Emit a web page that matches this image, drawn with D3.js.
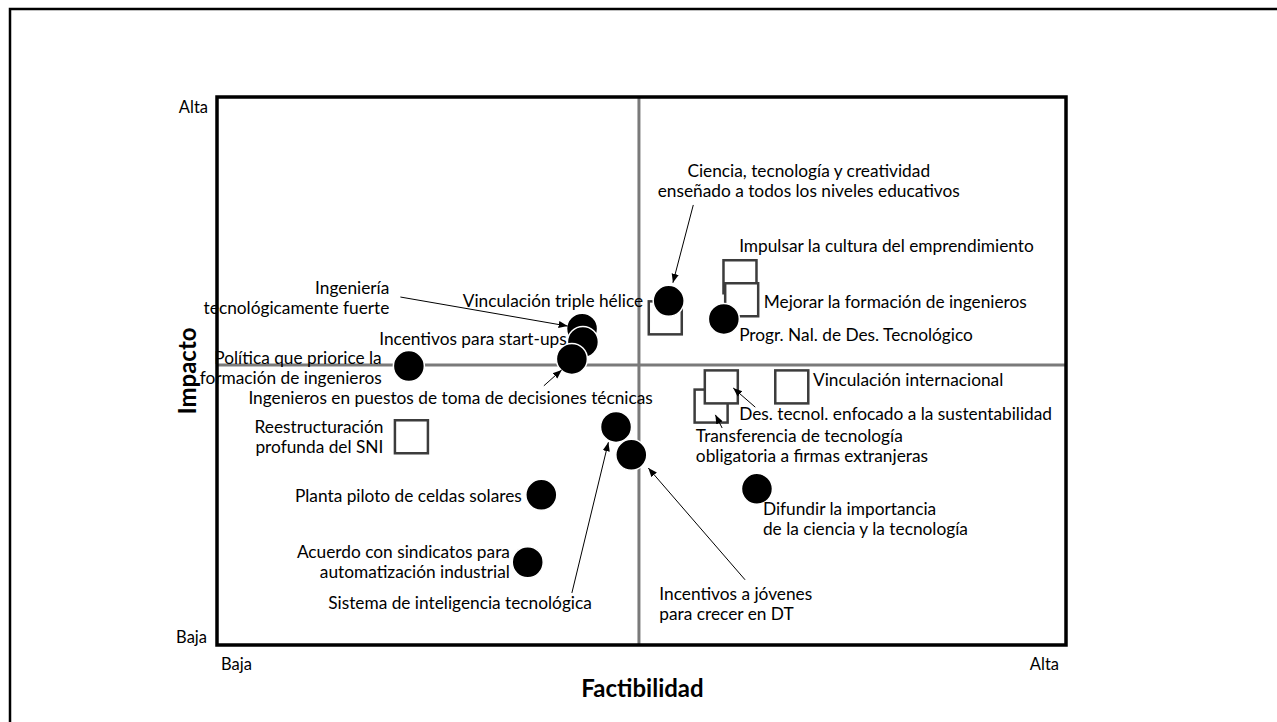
<!DOCTYPE html>
<html>
<head>
<meta charset="utf-8">
<script src="https://cdn.jsdelivr.net/npm/d3@7"></script>
<style>
  body { margin: 0; background: #fff; }
  svg { display: block; font-family: Lato, "Open Sans", sans-serif; }
</style>
</head>
<body>
<svg id="canvas" width="1277" height="722"></svg>
<script>
// ---- data (0..10 on both axes) ----
const circleNames = ['Ciencia', 'Progr', 'Triple', 'Startups', 'Puestos', 'Politica',
  'Sistema', 'Jovenes', 'Difundir', 'Planta', 'Acuerdo'];
const circleX = [5.32, 5.97, 4.30, 4.31, 4.18, 2.26, 4.70, 4.88, 6.36, 3.82, 3.66];
const circleY = [6.28, 5.95, 5.77, 5.53, 5.22, 5.09, 3.98, 3.47, 2.85, 2.74, 1.51];

const squareNames = ['Impulsar', 'CienciaSq', 'Mejorar', 'VincIntl', 'Transferencia', 'DesTecnol', 'SNI'];
const squareX = [6.16, 5.28, 6.18, 6.77, 5.82, 5.94, 2.29];
const squareY = [6.72, 5.97, 6.30, 4.71, 4.36, 4.71, 3.80];

const xMid = 4.97;
const yMid = 5.11;

const xTicks = ['Baja', 'Alta'];
const yTicks = ['Baja', 'Alta'];

// annotations: anchor, x, y of first line (data units), lines
const noteAnchor = ['middle', 'start', 'start', 'start', 'start', 'start', 'start', 'start', 'start',
  'start', 'end', 'end', 'end', 'start', 'end', 'end', 'end', 'end'];
const noteX = [6.97, 6.15, 6.44, 6.15, 7.02, 6.15, 5.64, 6.43, 5.21, 1.31, 3.45, 3.59, 1.96, 0.37, 1.94, 4.12, 2.03, 5.02];
const noteY = [8.67, 7.30, 6.28, 5.68, 4.85, 4.23, 3.83, 2.50, 0.95, 0.78, 1.72, 2.74, 4.00, 4.53, 5.26, 5.60, 6.53, 6.30];
const noteText = [
  ['Ciencia, tecnología y creatividad', 'enseñado a todos los niveles educativos'],
  ['Impulsar la cultura del emprendimiento'],
  ['Mejorar la formación de ingenieros'],
  ['Progr. Nal. de Des. Tecnológico'],
  ['Vinculación internacional'],
  ['Des. tecnol. enfocado a la sustentabilidad'],
  ['Transferencia de tecnología', 'obligatoria a firmas extranjeras'],
  ['Difundir la importancia', 'de la ciencia y la tecnología'],
  ['Incentivos a jóvenes', 'para crecer en DT'],
  ['Sistema de inteligencia tecnológica'],
  ['Acuerdo con sindicatos para', 'automatización industrial'],
  ['Planta piloto de celdas solares'],
  ['Reestructuración', 'profunda del SNI'],
  ['Ingenieros en puestos de toma de decisiones técnicas'],
  ['Política que priorice la', 'formación de ingenieros'],
  ['Incentivos para start-ups'],
  ['Ingeniería', 'tecnológicamente fuerte'],
  ['Vinculación triple hélice']
];

// leader arrows (data units)
const arrowX1 = [5.61, 6.34, 5.95, 6.22, 4.18, 3.85, 2.16];
const arrowY1 = [8.03, 4.34, 3.96, 1.19, 0.95, 4.73, 6.35];
const arrowX2 = [5.37, 6.08, 5.87, 5.08, 4.61, 4.06, 4.13];
const arrowY2 = [6.61, 4.69, 4.20, 3.23, 3.70, 5.02, 5.82];

// ---- layout ----
const svg = d3.select('#canvas');
const plotLeft = 217, plotRight = 1066, plotTop = 97, plotBottom = 645;

const x = d3.scaleLinear().domain([0, 10]).range([plotLeft, plotRight]);
const y = d3.scaleLinear().domain([0, 10]).range([plotBottom, plotTop]);

// outer frame (only left and top edges show on the page)
svg.append('path')
  .attr('d', 'M10,722 L10,9 L1277,9')
  .attr('fill', 'none')
  .attr('stroke', '#000')
  .attr('stroke-width', 2.5);

svg.append('defs').append('marker')
  .attr('id', 'head')
  .attr('viewBox', '0 0 10 10')
  .attr('refX', 10).attr('refY', 5)
  .attr('markerWidth', 9).attr('markerHeight', 9)
  .attr('markerUnits', 'userSpaceOnUse')
  .attr('orient', 'auto')
  .append('path')
  .attr('d', 'M0,1 L10,5 L0,9 Z')
  .attr('fill', '#000');

// quadrant lines
svg.append('line')
  .attr('x1', x(xMid)).attr('x2', x(xMid))
  .attr('y1', y(0)).attr('y2', y(10))
  .attr('stroke', '#7a7a7a').attr('stroke-width', 3);
svg.append('line')
  .attr('x1', x(0)).attr('x2', x(10))
  .attr('y1', y(yMid)).attr('y2', y(yMid))
  .attr('stroke', '#7a7a7a').attr('stroke-width', 3);

// plot box
svg.append('rect')
  .attr('x', x(0)).attr('y', y(10))
  .attr('width', x(10) - x(0)).attr('height', y(0) - y(10))
  .attr('fill', 'none')
  .attr('stroke', '#000')
  .attr('stroke-width', 3.5);

// squares
const sq = 33;
svg.append('g').selectAll('rect')
  .data(squareNames)
  .join('rect')
  .attr('x', (d, i) => x(squareX[i]) - sq / 2)
  .attr('y', (d, i) => y(squareY[i]) - sq / 2)
  .attr('width', sq).attr('height', sq)
  .attr('fill', '#fff')
  .attr('stroke', '#3c3c3c')
  .attr('stroke-width', 2.5);

// circles
svg.append('g').selectAll('circle')
  .data(circleNames)
  .join('circle')
  .attr('cx', (d, i) => x(circleX[i]))
  .attr('cy', (d, i) => y(circleY[i]))
  .attr('r', 15.5)
  .attr('fill', '#000')
  .attr('stroke', '#fff')
  .attr('stroke-width', 1.5);

// arrows
svg.append('g').selectAll('line')
  .data(arrowX1)
  .join('line')
  .attr('x1', (d, i) => x(arrowX1[i]))
  .attr('y1', (d, i) => y(arrowY1[i]))
  .attr('x2', (d, i) => x(arrowX2[i]))
  .attr('y2', (d, i) => y(arrowY2[i]))
  .attr('stroke', '#000')
  .attr('stroke-width', 1)
  .attr('marker-end', 'url(#head)');

// labels
const notes = svg.append('g')
  .attr('font-size', 17.3)
  .attr('fill', '#000');
noteText.forEach((lines, i) => {
  const t = notes.append('text')
    .attr('text-anchor', noteAnchor[i])
    .attr('x', x(noteX[i]))
    .attr('y', y(noteY[i]))
    .attr('dominant-baseline', 'central');
  lines.forEach((s, j) => {
    t.append('tspan')
      .attr('x', x(noteX[i]))
      .attr('dy', j === 0 ? 0 : 20)
      .text(s);
  });
});

// axis end labels
const ax = svg.append('g').attr('font-size', 16.5).attr('dominant-baseline', 'central');
ax.append('text').attr('text-anchor', 'end').attr('x', x(0) - 9).attr('y', y(10) + 10).text(yTicks[1]);
ax.append('text').attr('text-anchor', 'end').attr('x', x(0) - 10).attr('y', y(0) - 8).text(yTicks[0]);
ax.append('text').attr('text-anchor', 'start').attr('x', x(0) + 4).attr('y', y(0) + 19).text(xTicks[0]);
ax.append('text').attr('text-anchor', 'end').attr('x', x(10) - 7).attr('y', y(0) + 19).text(xTicks[1]);

// axis titles
svg.append('text')
  .attr('x', (plotLeft + plotRight) / 2 + 1)
  .attr('y', 687)
  .attr('text-anchor', 'middle')
  .attr('dominant-baseline', 'central')
  .attr('font-size', 24)
  .attr('font-weight', 'bold')
  .text('Factibilidad');
svg.append('text')
  .attr('transform', 'translate(186,' + ((plotTop + plotBottom) / 2) + ') rotate(-90)')
  .attr('text-anchor', 'middle')
  .attr('dominant-baseline', 'central')
  .attr('font-size', 24)
  .attr('font-weight', 'bold')
  .text('Impacto');
</script>
</body>
</html>
